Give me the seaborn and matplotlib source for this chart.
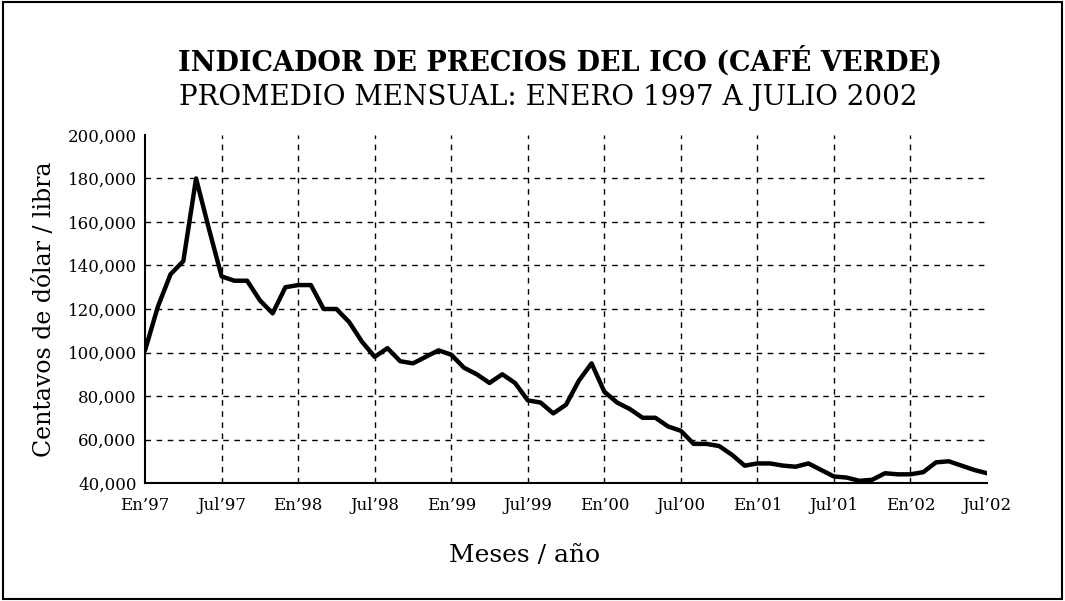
import numpy as np
import pandas as pd
import matplotlib
matplotlib.use("Agg")
import matplotlib.pyplot as plt
from matplotlib.patches import Rectangle
import seaborn as sns

# monthly ICO indicator, Jan 1997 .. Jul 2002
months = list(range(67))
prices = [101000, 121000, 136000, 142000, 180000, 157000, 135000, 133000,
          133000, 124000, 118000, 130000, 131000, 131000, 120000, 120000,
          114000, 105000, 98000, 102000, 96000, 95000, 98000, 101000,
          99000, 93000, 90000, 86000, 90000, 86000, 78000, 77000,
          72000, 76000, 87000, 95000, 82000, 77000, 74000, 70000,
          70000, 66000, 64000, 58000, 58000, 57000, 53000, 48000,
          49000, 49000, 48000, 47500, 49000, 46000, 43000, 42500,
          41000, 41500, 44500, 44000, 44000, 45000, 49500, 50000,
          48000, 46000, 44500]

xtick_pos = list(range(0, 67, 6))
xtick_labels = ["En’97", "Jul’97", "En’98", "Jul’98", "En’99", "Jul’99",
                "En’00", "Jul’00", "En’01", "Jul’01", "En’02", "Jul’02"]
ytick_vals = list(range(40000, 200001, 20000))

df = pd.DataFrame({"mes": months, "precio": prices})

sns.set_theme(style="white")
plt.rcParams["font.family"] = ["DejaVu Serif"]
plt.rcParams["text.color"] = "black"
plt.rcParams["axes.labelcolor"] = "black"

fig = plt.figure(figsize=(10.65, 6.01), dpi=100)
ax = fig.add_axes([0.1362, 0.1963, 0.7906, 0.5791])

sns.lineplot(data=df, x="mes", y="precio", color="black", linewidth=3.2, ax=ax)

ax.set_xlim(0, 66)
ax.set_ylim(40000, 200000)
ax.set_xticks(xtick_pos)
ax.set_xticklabels(xtick_labels, fontsize=12)
ax.set_yticks(ytick_vals)
ax.set_yticklabels([f"{v:,}" for v in ytick_vals], fontsize=12)
ax.tick_params(axis="x", length=0, pad=10, colors="black")
ax.tick_params(axis="y", length=0, pad=6, colors="black")

# dashed grid, none along the top or at the last month
for v in ytick_vals[1:-1]:
    ax.axhline(v, color="black", lw=1, ls=(0, (4, 4)), zorder=0)
for p in xtick_pos[1:-1]:
    ax.axvline(p, color="black", lw=1, ls=(0, (4, 4)), zorder=0)

for s in ["top", "right"]:
    ax.spines[s].set_visible(False)
for s in ["left", "bottom"]:
    ax.spines[s].set_color("black")
    ax.spines[s].set_linewidth(1.5)

ax.set_xlabel("Meses / año", fontsize=18)
ax.xaxis.set_label_coords(0.451, -0.175)
ax.set_ylabel("Centavos de dólar / libra", fontsize=17, labelpad=8)

fig.text(0.526, 0.897, "INDICADOR DE PRECIOS DEL ICO (CAFÉ VERDE)",
         ha="center", va="center", fontsize=19.5, fontweight="bold")
fig.text(0.5146, 0.837, "PROMEDIO MENSUAL: ENERO 1997 A JULIO 2002",
         ha="center", va="center", fontsize=20)

fig.patches.append(Rectangle((0.003, 0.004), 0.994, 0.992, transform=fig.transFigure,
                             fill=False, ec="black", lw=1.5))

fig.savefig("out.png", dpi=100, facecolor="white")
